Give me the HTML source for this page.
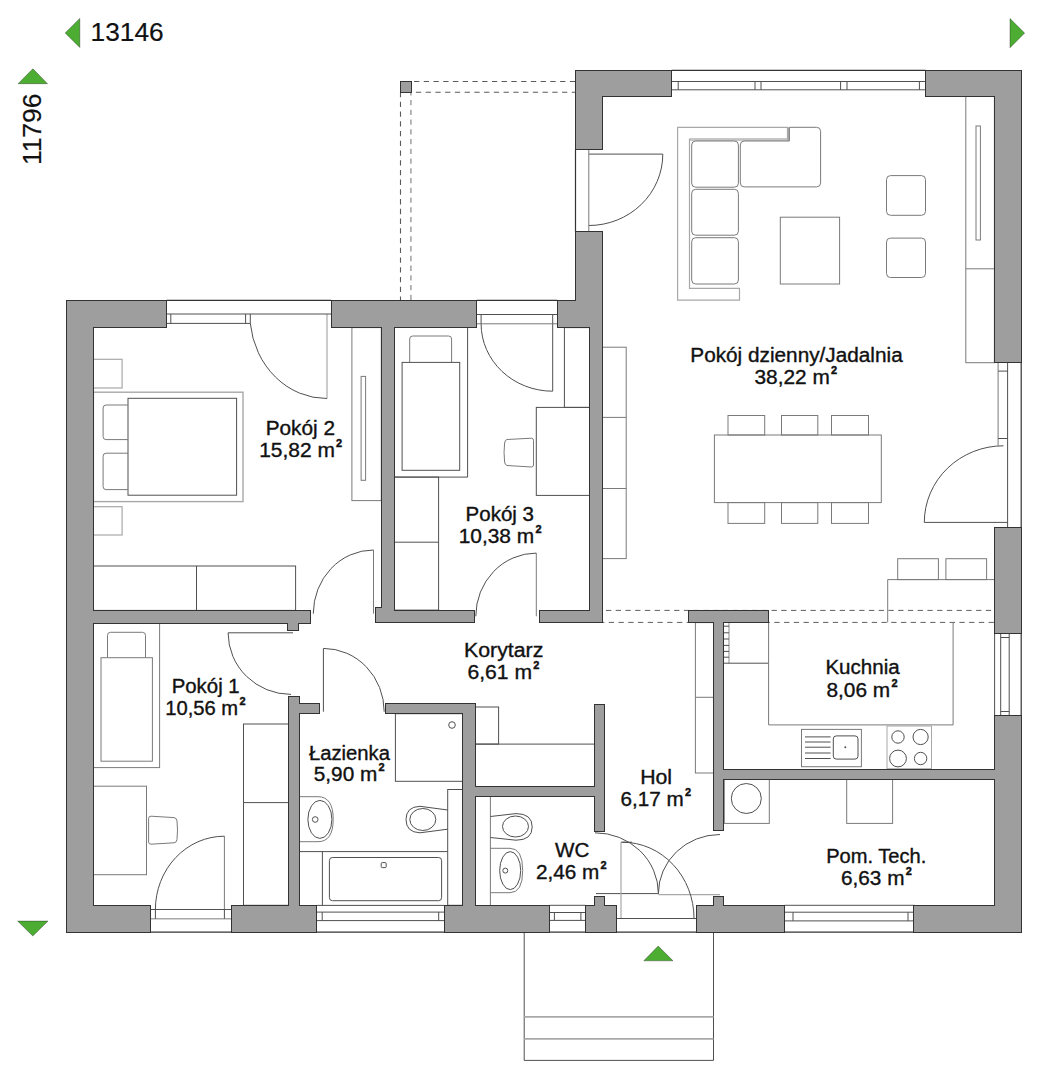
<!DOCTYPE html>
<html><head><meta charset="utf-8"><title>Floor plan</title>
<style>html,body{margin:0;padding:0;background:#fff;}body{width:1052px;height:1080px;overflow:hidden;font-family:"Liberation Sans",sans-serif;}svg{display:block;}</style>
</head><body>
<svg width="1052" height="1080" viewBox="0 0 1052 1080">
<rect width="1052" height="1080" fill="#ffffff"/>
<g><line x1="411.6" y1="81.5" x2="575.4" y2="81.5" stroke="#5a5a5a" stroke-width="1.1" stroke-dasharray="5.3 4.44" stroke-dashoffset="7.34"/><line x1="411.6" y1="92.3" x2="575.4" y2="92.3" stroke="#5a5a5a" stroke-width="1.1" stroke-dasharray="5.3 4.44" stroke-dashoffset="5.44"/><line x1="400.5" y1="92.6" x2="400.5" y2="300" stroke="#5a5a5a" stroke-width="1.1" stroke-dasharray="5.3 4.44" stroke-dashoffset="0.64"/><line x1="410.9" y1="92.6" x2="410.9" y2="300" stroke="#a0a0a0" stroke-width="1.5" stroke-dasharray="5.3 4.44" stroke-dashoffset="2.34"/><line x1="602.5" y1="610.4" x2="994.6" y2="610.4" stroke="#5e5e5e" stroke-width="1.0" stroke-dasharray="5.3 4.44" stroke-dashoffset="6.28"/><line x1="602.5" y1="622.4" x2="994.6" y2="622.4" stroke="#5e5e5e" stroke-width="1.0" stroke-dasharray="5.3 4.44" stroke-dashoffset="3.48"/></g>
<g><rect x="93.4" y="359.3" width="28.70" height="28.70" fill="none" stroke="#a8a8a8" stroke-width="1.2"/><rect x="93.4" y="392.2" width="149.60" height="109.40" fill="none" stroke="#a8a8a8" stroke-width="1.4"/><rect x="128.0" y="398.3" width="108.60" height="96.90" fill="none" stroke="#505050" stroke-width="1"/><path d="M128,405 H106.1 Q103.1,405 103.1,408 V436.6 Q103.1,439.6 106.1,439.6 H128" fill="none" stroke="#7a7a7a" stroke-width="1"/><path d="M128,453.2 H106.1 Q103.1,453.2 103.1,456.2 V486.6 Q103.1,489.6 106.1,489.6 H128" fill="none" stroke="#7a7a7a" stroke-width="1"/><rect x="93.4" y="506.7" width="28.70" height="28.30" fill="none" stroke="#a8a8a8" stroke-width="1.2"/><rect x="93.4" y="566.0" width="202.20" height="44.40" fill="none" stroke="#505050" stroke-width="1"/><line x1="196.5" y1="566.0" x2="196.5" y2="610.4" stroke="#505050" stroke-width="1" /><rect x="351.9" y="327.6" width="29.40" height="173.00" fill="none" stroke="#7a7a7a" stroke-width="1"/><rect x="361.1" y="376.4" width="4.50" height="103.90" fill="none" stroke="#7a7a7a" stroke-width="1"/><path d="M409.7,362.4 V339 Q409.7,336 412.7,336 H448.6 Q451.6,336 451.6,339 V362.4" fill="none" stroke="#7a7a7a" stroke-width="1"/><rect x="402.1" y="362.4" width="57.60" height="107.90" fill="none" stroke="#505050" stroke-width="1"/><line x1="467.6" y1="327.6" x2="467.6" y2="477.1" stroke="#505050" stroke-width="1" /><line x1="394.2" y1="477.1" x2="467.6" y2="477.1" stroke="#505050" stroke-width="1" /><rect x="394.2" y="477.1" width="44.40" height="133.00" fill="none" stroke="#505050" stroke-width="1"/><line x1="394.2" y1="542.2" x2="438.6" y2="542.2" stroke="#505050" stroke-width="1" /><rect x="564.4" y="327.6" width="25.10" height="79.80" fill="none" stroke="#505050" stroke-width="1"/><rect x="536.3" y="407.4" width="53.20" height="88.00" fill="none" stroke="#505050" stroke-width="1"/><path d="M507,439.5 L531.5,438.2 Q533.5,438.2 533.5,440.5 L533.5,465 Q533.5,467 531.5,467 L507,465.5 Q505,465 504.6,462 Q503.5,452.5 504.6,443 Q505,439.7 507,439.5 Z" fill="none" stroke="#7a7a7a" stroke-width="1"/><path d="M787.5,127.3 H677.6 V300.2 H739.5 V288.3 H689.5 V139.2 H787.5 Z" fill="none" stroke="#a8a8a8" stroke-width="1.2"/><line x1="690.0" y1="139.6" x2="788.0" y2="139.6" stroke="#c4c4c4" stroke-width="2.6" /><line x1="788.2" y1="127.3" x2="788.2" y2="140.8" stroke="#a8a8a8" stroke-width="1.6" /><rect x="691.7" y="141.0" width="46.70" height="46.20" fill="none" stroke="#7a7a7a" stroke-width="1" rx="4"/><rect x="691.7" y="189.3" width="46.70" height="45.90" fill="none" stroke="#7a7a7a" stroke-width="1" rx="4"/><rect x="691.7" y="237.7" width="46.70" height="46.30" fill="none" stroke="#7a7a7a" stroke-width="1" rx="4"/><path d="M744.3,141 H789.4 V127.3 H816.6 Q820.6,127.3 820.6,131.3 V182.9 Q820.6,186.9 816.6,186.9 H744.3 Q740.3,186.9 740.3,182.9 V145 Q740.3,141 744.3,141 Z" fill="none" stroke="#7a7a7a" stroke-width="1"/><rect x="780.3" y="217.2" width="59.30" height="66.80" fill="none" stroke="#7a7a7a" stroke-width="1"/><rect x="886.5" y="175.6" width="39.00" height="39.70" fill="none" stroke="#7a7a7a" stroke-width="1" rx="4"/><rect x="886.5" y="238.1" width="39.00" height="39.40" fill="none" stroke="#7a7a7a" stroke-width="1" rx="4"/><rect x="965.8" y="96.2" width="28.60" height="266.50" fill="none" stroke="#7a7a7a" stroke-width="1"/><line x1="965.8" y1="268.8" x2="994.4" y2="268.8" stroke="#7a7a7a" stroke-width="1" /><rect x="976.0" y="126.0" width="4.40" height="114.00" fill="none" stroke="#7a7a7a" stroke-width="1"/><rect x="602.3" y="347.2" width="23.90" height="211.40" fill="none" stroke="#7a7a7a" stroke-width="1"/><line x1="602.3" y1="417.4" x2="626.2" y2="417.4" stroke="#7a7a7a" stroke-width="1" /><line x1="602.3" y1="488.5" x2="626.2" y2="488.5" stroke="#7a7a7a" stroke-width="1" /><rect x="714.4" y="435.0" width="166.90" height="67.60" fill="none" stroke="#7a7a7a" stroke-width="1"/><rect x="728.0" y="415.5" width="36.70" height="19.50" fill="none" stroke="#7a7a7a" stroke-width="1"/><rect x="728.0" y="502.6" width="36.70" height="20.80" fill="none" stroke="#7a7a7a" stroke-width="1"/><rect x="781.5" y="415.5" width="36.30" height="19.50" fill="none" stroke="#7a7a7a" stroke-width="1"/><rect x="781.5" y="502.6" width="36.30" height="20.80" fill="none" stroke="#7a7a7a" stroke-width="1"/><rect x="831.5" y="415.5" width="37.00" height="19.50" fill="none" stroke="#7a7a7a" stroke-width="1"/><rect x="831.5" y="502.6" width="37.00" height="20.80" fill="none" stroke="#7a7a7a" stroke-width="1"/><rect x="897.7" y="558.7" width="40.70" height="20.90" fill="none" stroke="#7a7a7a" stroke-width="1"/><rect x="945.9" y="558.7" width="40.70" height="20.90" fill="none" stroke="#7a7a7a" stroke-width="1"/><line x1="887.7" y1="579.6" x2="994.6" y2="579.6" stroke="#7a7a7a" stroke-width="1" /><line x1="887.7" y1="579.6" x2="887.7" y2="622.4" stroke="#7a7a7a" stroke-width="1" /><line x1="729.0" y1="622.6" x2="729.0" y2="663.2" stroke="#a8a8a8" stroke-width="1.3" /><line x1="723.5" y1="626.2" x2="729.0" y2="626.2" stroke="#505050" stroke-width="1" /><line x1="723.5" y1="632.8" x2="729.0" y2="632.8" stroke="#505050" stroke-width="1" /><line x1="723.5" y1="639.0" x2="729.0" y2="639.0" stroke="#505050" stroke-width="1" /><line x1="723.5" y1="645.4" x2="729.0" y2="645.4" stroke="#505050" stroke-width="1" /><line x1="723.5" y1="651.4" x2="729.0" y2="651.4" stroke="#505050" stroke-width="1" /><line x1="723.5" y1="657.2" x2="729.0" y2="657.2" stroke="#505050" stroke-width="1" /><line x1="723.5" y1="663.2" x2="768.6" y2="663.2" stroke="#505050" stroke-width="1" /><path d="M768.6,622.6 V724.9 H953.1 V622.6" fill="none" stroke="#7a7a7a" stroke-width="1"/><rect x="801.5" y="729.4" width="59.90" height="37.30" fill="none" stroke="#7a7a7a" stroke-width="1"/><line x1="805.0" y1="736.9" x2="830.6" y2="736.9" stroke="#505050" stroke-width="1" /><line x1="805.0" y1="742.0" x2="830.6" y2="742.0" stroke="#505050" stroke-width="1" /><line x1="805.0" y1="747.2" x2="830.6" y2="747.2" stroke="#505050" stroke-width="1" /><line x1="805.0" y1="753.0" x2="830.6" y2="753.0" stroke="#505050" stroke-width="1" /><line x1="805.0" y1="758.5" x2="830.6" y2="758.5" stroke="#505050" stroke-width="1" /><rect x="833.3" y="735.9" width="24.70" height="23.20" fill="none" stroke="#505050" stroke-width="1" rx="3"/><circle cx="845.3" cy="747.2" r="1" fill="#505050"/><rect x="887.0" y="726.0" width="44.50" height="42.70" fill="none" stroke="#a8a8a8" stroke-width="1"/><circle cx="898" cy="737" r="6.2" fill="none" stroke="#505050" stroke-width="1"/><circle cx="920.6" cy="737" r="7.6" fill="none" stroke="#505050" stroke-width="1"/><circle cx="898" cy="758.5" r="8.4" fill="none" stroke="#505050" stroke-width="1"/><circle cx="920.6" cy="758.5" r="6.2" fill="none" stroke="#505050" stroke-width="1"/><rect x="695.4" y="622.6" width="18.20" height="150.40" fill="none" stroke="#7a7a7a" stroke-width="1"/><line x1="695.4" y1="697.3" x2="713.6" y2="697.3" stroke="#7a7a7a" stroke-width="1" /><rect x="724.3" y="779.0" width="45.00" height="44.40" fill="none" stroke="#7a7a7a" stroke-width="1"/><circle cx="746.3" cy="798.5" r="15" fill="none" stroke="#505050" stroke-width="1"/><rect x="846.7" y="779.0" width="45.90" height="44.40" fill="none" stroke="#7a7a7a" stroke-width="1"/><rect x="93.4" y="623.2" width="66.20" height="144.40" fill="none" stroke="#7a7a7a" stroke-width="1"/><path d="M107.5,657.7 V635.3 Q107.5,632.3 110.5,632.3 H142.5 Q145.5,632.3 145.5,635.3 V657.7" fill="none" stroke="#7a7a7a" stroke-width="1"/><rect x="101.0" y="657.7" width="51.40" height="103.50" fill="none" stroke="#7a7a7a" stroke-width="1"/><rect x="243.5" y="724.0" width="45.10" height="181.30" fill="none" stroke="#505050" stroke-width="1"/><line x1="243.5" y1="802.6" x2="288.6" y2="802.6" stroke="#505050" stroke-width="1" /><rect x="93.4" y="786.2" width="53.10" height="88.50" fill="none" stroke="#7a7a7a" stroke-width="1"/><path d="M151,816.2 L174,817.6 Q176.8,818 177,821 Q178,830 177,839.5 Q176.8,842.6 174,842.8 L151,844.2 Q148.6,844.2 148.6,842 V818.4 Q148.6,816.2 151,816.2 Z" fill="none" stroke="#7a7a7a" stroke-width="1"/><rect x="395.4" y="713.7" width="67.40" height="67.60" fill="none" stroke="#505050" stroke-width="1"/><circle cx="452" cy="725" r="3.3" fill="none" stroke="#505050" stroke-width="1"/><rect x="447.7" y="789.5" width="15.10" height="115.80" fill="none" stroke="#505050" stroke-width="1"/><path d="M447.7,810 L420,806.3 Q406,806.8 406,819.5 Q406,832.3 420,832.8 L447.7,829.2" fill="none" stroke="#505050" stroke-width="1"/><ellipse cx="422.8" cy="819.5" rx="13" ry="11" fill="none" stroke="#505050" stroke-width="1"/><path d="M299.6,796.7 H318 Q333.2,796.7 333.2,819.2 Q333.2,841.7 318,841.7 H299.6" fill="none" stroke="#7a7a7a" stroke-width="1"/><ellipse cx="319.9" cy="819.4" rx="12" ry="19" fill="none" stroke="#505050" stroke-width="1"/><circle cx="315.2" cy="819.5" r="2.8" fill="none" stroke="#505050" stroke-width="1"/><line x1="299.6" y1="851.6" x2="447.7" y2="851.6" stroke="#505050" stroke-width="1" /><line x1="322.4" y1="851.6" x2="322.4" y2="905.3" stroke="#505050" stroke-width="1" /><rect x="329.4" y="857.5" width="112.20" height="43.20" fill="none" stroke="#505050" stroke-width="1" rx="3"/><rect x="381.2" y="862.6" width="5.00" height="5.00" fill="none" stroke="#505050" stroke-width="1" rx="1"/><rect x="475.5" y="707.0" width="23.10" height="37.10" fill="none" stroke="#505050" stroke-width="1"/><line x1="475.5" y1="744.1" x2="594.3" y2="744.1" stroke="#505050" stroke-width="1" /><line x1="490.4" y1="796.7" x2="490.4" y2="905.3" stroke="#7a7a7a" stroke-width="1" /><path d="M490.4,816.5 L516,813.6 Q532.2,813.6 532.2,826.9 Q532.2,840.2 516,840.2 L490.4,837.5" fill="none" stroke="#505050" stroke-width="1"/><ellipse cx="515.5" cy="826.5" rx="13" ry="10.5" fill="none" stroke="#505050" stroke-width="1"/><path d="M490.4,848.3 H510 Q522.7,848.3 522.7,870.5 Q522.7,892.7 510,892.7 H490.4" fill="none" stroke="#7a7a7a" stroke-width="1"/><ellipse cx="510.2" cy="870.6" rx="10.5" ry="19" fill="none" stroke="#505050" stroke-width="1"/><circle cx="505.3" cy="870.6" r="2.5" fill="none" stroke="#505050" stroke-width="1"/><line x1="524.2" y1="932.4" x2="524.2" y2="1060.4" stroke="#505050" stroke-width="1" /><line x1="713.5" y1="932.4" x2="713.5" y2="1060.4" stroke="#505050" stroke-width="1" /><line x1="524.2" y1="1060.4" x2="713.5" y2="1060.4" stroke="#505050" stroke-width="1" /><line x1="524.2" y1="1016.9" x2="713.5" y2="1016.9" stroke="#a8a8a8" stroke-width="1.6" /><line x1="524.2" y1="1038.9" x2="713.5" y2="1038.9" stroke="#a8a8a8" stroke-width="1.6" /></g>
<g><line x1="327.0" y1="314" x2="327.0" y2="398.5" stroke="#a8a8a8" stroke-width="1.2" /><path d="M250.3,323.4 A76.7,84.5 0 0 0 327.0,398.5" fill="none" stroke="#505050" stroke-width="1"/><line x1="552.7" y1="323.8" x2="552.7" y2="391.2" stroke="#505050" stroke-width="1" /><path d="M481.1,323.8 A71.6,67.4 0 0 0 552.7,391.2" fill="none" stroke="#505050" stroke-width="1"/><line x1="588.8" y1="154.1" x2="662.8" y2="154.1" stroke="#505050" stroke-width="1" /><path d="M662.8,154.1 A74,71.4 0 0 1 588.8,225.5" fill="none" stroke="#505050" stroke-width="1"/><line x1="924.3" y1="522.4" x2="1007.6" y2="522.4" stroke="#505050" stroke-width="1" /><path d="M924.3,522.4 A79.2,76.6 0 0 1 1003.5,445.8" fill="none" stroke="#505050" stroke-width="1"/><line x1="373.5" y1="550" x2="373.5" y2="613.7" stroke="#7a7a7a" stroke-width="1" /><path d="M373.5,550 A60.2,63.7 0 0 0 313.3,613.7" fill="none" stroke="#505050" stroke-width="1"/><line x1="536.3" y1="553.1" x2="536.3" y2="616.3" stroke="#7a7a7a" stroke-width="1" /><path d="M536.3,553.1 A60.5,63.2 0 0 0 475.8,616.3" fill="none" stroke="#505050" stroke-width="1"/><line x1="228.1" y1="632.8" x2="293.0" y2="632.8" stroke="#505050" stroke-width="1" /><path d="M228.1,632.8 A62.9,61.6 0 0 0 291.0,694.4" fill="none" stroke="#505050" stroke-width="1"/><line x1="323.4" y1="648.4" x2="323.4" y2="711.7" stroke="#505050" stroke-width="1" /><path d="M323.4,648.4 A60.8,63.3 0 0 1 384.2,711.7" fill="none" stroke="#505050" stroke-width="1"/><line x1="224.4" y1="836.2" x2="224.4" y2="909.5" stroke="#7a7a7a" stroke-width="1" /><path d="M224.4,836.2 A69,73.3 0 0 0 155.4,909.5" fill="none" stroke="#505050" stroke-width="1"/><path d="M595.0,832.8 A63.4,60.8 0 0 1 658.4,893.6" fill="none" stroke="#505050" stroke-width="1"/><path d="M720.0,834.5 A61.6,59.1 0 0 0 658.4,893.6" fill="none" stroke="#505050" stroke-width="1"/><line x1="596.0" y1="893.6" x2="658.4" y2="893.6" stroke="#505050" stroke-width="1" /><line x1="658.4" y1="894.6" x2="720.0" y2="894.6" stroke="#a8a8a8" stroke-width="1.2" /><line x1="621.0" y1="842.2" x2="621.0" y2="918.5" stroke="#a8a8a8" stroke-width="1.2" /><line x1="621.0" y1="842.2" x2="632.0" y2="842.2" stroke="#505050" stroke-width="1" /><path d="M622.5,842.2 A71.5,76.2 0 0 1 694.0,918.4" fill="none" stroke="#505050" stroke-width="1"/></g>
<g><line x1="166.5" y1="300.3" x2="331.1" y2="300.3" stroke="#333333" stroke-width="1.2" /><line x1="166.5" y1="314.0" x2="331.1" y2="314.0" stroke="#505050" stroke-width="1" /><line x1="166.5" y1="323.4" x2="250.3" y2="323.4" stroke="#505050" stroke-width="1" /><line x1="170.8" y1="314" x2="170.8" y2="323.4" stroke="#505050" stroke-width="1" /><line x1="245.6" y1="314" x2="245.6" y2="323.4" stroke="#505050" stroke-width="1" /><line x1="250.3" y1="314" x2="250.3" y2="323.4" stroke="#505050" stroke-width="1" /><line x1="476.6" y1="300.3" x2="557.4" y2="300.3" stroke="#333333" stroke-width="1.2" /><line x1="476.6" y1="314.5" x2="557.4" y2="314.5" stroke="#505050" stroke-width="1" /><line x1="476.6" y1="323.8" x2="557.4" y2="323.8" stroke="#7a7a7a" stroke-width="1" /><line x1="481.1" y1="314.5" x2="481.1" y2="323.8" stroke="#505050" stroke-width="1" /><line x1="552.7" y1="314.5" x2="552.7" y2="323.8" stroke="#505050" stroke-width="1" /><line x1="671.7" y1="70.3" x2="925.5" y2="70.3" stroke="#333333" stroke-width="1.2" /><line x1="671.7" y1="81.5" x2="925.5" y2="81.5" stroke="#505050" stroke-width="1" /><line x1="671.7" y1="89.8" x2="925.5" y2="89.8" stroke="#505050" stroke-width="1" /><line x1="678.2" y1="81.5" x2="678.2" y2="89.8" stroke="#505050" stroke-width="1" /><line x1="755.0" y1="81.5" x2="755.0" y2="89.8" stroke="#505050" stroke-width="1" /><line x1="761.0" y1="81.5" x2="761.0" y2="89.8" stroke="#505050" stroke-width="1" /><line x1="840.6" y1="81.5" x2="840.6" y2="89.8" stroke="#505050" stroke-width="1" /><line x1="847.0" y1="81.5" x2="847.0" y2="89.8" stroke="#505050" stroke-width="1" /><line x1="919.4" y1="81.5" x2="919.4" y2="89.8" stroke="#505050" stroke-width="1" /><line x1="575.5" y1="149.4" x2="575.5" y2="231.5" stroke="#333333" stroke-width="1.2" /><line x1="588.8" y1="149.4" x2="588.8" y2="231.5" stroke="#7a7a7a" stroke-width="1" /><line x1="1021.2" y1="362.7" x2="1021.2" y2="527.3" stroke="#333333" stroke-width="1.2" /><line x1="1007.6" y1="362.7" x2="1007.6" y2="527.3" stroke="#505050" stroke-width="1" /><line x1="998.1" y1="362.7" x2="998.1" y2="445.8" stroke="#7a7a7a" stroke-width="1" /><line x1="998.1" y1="371.1" x2="1007.6" y2="371.1" stroke="#505050" stroke-width="1" /><line x1="998.1" y1="438.5" x2="1007.6" y2="438.5" stroke="#505050" stroke-width="1" /><line x1="1021.2" y1="633.4" x2="1021.2" y2="715.3" stroke="#333333" stroke-width="1.2" /><line x1="1000.7" y1="633.4" x2="1000.7" y2="715.3" stroke="#505050" stroke-width="1" /><line x1="1009.2" y1="633.4" x2="1009.2" y2="715.3" stroke="#505050" stroke-width="1" /><line x1="994.6" y1="633.4" x2="994.6" y2="715.3" stroke="#505050" stroke-width="1" /><line x1="1000.7" y1="637.5" x2="1009.2" y2="637.5" stroke="#505050" stroke-width="1" /><line x1="1000.7" y1="711.5" x2="1009.2" y2="711.5" stroke="#505050" stroke-width="1" /><line x1="784.6" y1="932.1" x2="914.5" y2="932.1" stroke="#333333" stroke-width="1.2" /><line x1="784.6" y1="912.2" x2="914.5" y2="912.2" stroke="#505050" stroke-width="1" /><line x1="784.6" y1="920.9" x2="914.5" y2="920.9" stroke="#505050" stroke-width="1" /><line x1="793.0" y1="912.2" x2="793.0" y2="920.9" stroke="#505050" stroke-width="1" /><line x1="908.0" y1="912.2" x2="908.0" y2="920.9" stroke="#505050" stroke-width="1" /><line x1="784.6" y1="905.3" x2="914.5" y2="905.3" stroke="#505050" stroke-width="1" /><line x1="549.5" y1="932.1" x2="585.4" y2="932.1" stroke="#333333" stroke-width="1.2" /><line x1="549.5" y1="912.5" x2="585.4" y2="912.5" stroke="#505050" stroke-width="1" /><line x1="549.5" y1="920.4" x2="585.4" y2="920.4" stroke="#505050" stroke-width="1" /><line x1="554.4" y1="912.5" x2="554.4" y2="920.4" stroke="#505050" stroke-width="1" /><line x1="580.9" y1="912.5" x2="580.9" y2="920.4" stroke="#505050" stroke-width="1" /><line x1="549.5" y1="905.3" x2="585.4" y2="905.3" stroke="#505050" stroke-width="1" /><line x1="316.7" y1="932.1" x2="444.4" y2="932.1" stroke="#333333" stroke-width="1.2" /><line x1="316.7" y1="912.1" x2="444.4" y2="912.1" stroke="#505050" stroke-width="1" /><line x1="316.7" y1="920.6" x2="444.4" y2="920.6" stroke="#505050" stroke-width="1" /><line x1="322.2" y1="912.1" x2="322.2" y2="920.6" stroke="#505050" stroke-width="1" /><line x1="438.7" y1="912.1" x2="438.7" y2="920.6" stroke="#505050" stroke-width="1" /><line x1="316.7" y1="905.4" x2="444.4" y2="905.4" stroke="#505050" stroke-width="1" /><line x1="150.4" y1="932.1" x2="231.4" y2="932.1" stroke="#333333" stroke-width="1.2" /><line x1="150.4" y1="909.5" x2="231.4" y2="909.5" stroke="#505050" stroke-width="1" /><line x1="150.4" y1="918.8" x2="231.4" y2="918.8" stroke="#a8a8a8" stroke-width="1.6" /><line x1="155.4" y1="909.5" x2="155.4" y2="918.8" stroke="#505050" stroke-width="1" /><line x1="224.4" y1="909.5" x2="224.4" y2="918.8" stroke="#505050" stroke-width="1" /><line x1="616.6" y1="932.1" x2="696.4" y2="932.1" stroke="#333333" stroke-width="1.2" /><line x1="616.6" y1="918.5" x2="696.4" y2="918.5" stroke="#505050" stroke-width="1" /></g>
<g fill="#9e9e9e" shape-rendering="crispEdges"><rect x="66" y="300" width="28" height="633"/><rect x="66" y="300" width="101" height="28"/><rect x="331" y="300" width="146" height="28"/><rect x="381" y="327" width="14" height="296"/><rect x="557" y="300" width="46" height="28"/><rect x="575" y="70" width="28" height="80"/><rect x="575" y="231" width="28" height="97"/><rect x="589" y="327" width="14" height="296"/><rect x="575" y="70" width="97" height="27"/><rect x="925" y="70" width="97" height="27"/><rect x="994" y="70" width="28" height="293"/><rect x="994" y="527" width="28" height="107"/><rect x="994" y="715" width="28" height="218"/><rect x="66" y="905" width="85" height="28"/><rect x="231" y="905" width="86" height="28"/><rect x="444" y="905" width="106" height="28"/><rect x="585" y="905" width="32" height="28"/><rect x="696" y="905" width="89" height="28"/><rect x="913" y="905" width="109" height="28"/><rect x="93" y="610" width="218" height="14"/><rect x="287" y="623" width="12" height="8"/><rect x="375" y="607" width="7" height="16"/><rect x="381" y="610" width="94" height="13"/><rect x="539" y="610" width="64" height="13"/><rect x="288" y="696" width="12" height="237"/><rect x="299" y="703" width="21" height="11"/><rect x="385" y="703" width="91" height="11"/><rect x="462" y="703" width="14" height="230"/><rect x="594" y="704" width="11" height="128"/><rect x="475" y="786" width="120" height="11"/><rect x="594" y="896" width="11" height="10"/><rect x="688" y="610" width="81" height="13"/><rect x="713" y="622" width="11" height="209"/><rect x="713" y="769" width="282" height="11"/><rect x="713" y="896" width="11" height="10"/><rect x="400" y="81" width="12" height="12"/></g>
<g fill="#333333" shape-rendering="crispEdges"><rect x="575" y="70" width="97" height="1"/><rect x="925" y="70" width="97" height="1"/><rect x="575" y="71" width="1" height="78"/><rect x="575" y="232" width="1" height="68"/><rect x="671" y="71" width="1" height="25"/><rect x="925" y="71" width="1" height="25"/><rect x="1021" y="71" width="1" height="291"/><rect x="1021" y="528" width="1" height="105"/><rect x="1021" y="716" width="1" height="216"/><rect x="400" y="81" width="12" height="1"/><rect x="400" y="92" width="12" height="1"/><rect x="400" y="82" width="1" height="10"/><rect x="411" y="82" width="1" height="10"/><rect x="602" y="96" width="70" height="1"/><rect x="925" y="96" width="70" height="1"/><rect x="602" y="97" width="1" height="52"/><rect x="602" y="232" width="1" height="390"/><rect x="994" y="97" width="1" height="265"/><rect x="994" y="528" width="1" height="105"/><rect x="994" y="716" width="1" height="53"/><rect x="994" y="780" width="1" height="125"/><rect x="575" y="149" width="28" height="1"/><rect x="575" y="231" width="28" height="1"/><rect x="66" y="300" width="101" height="1"/><rect x="331" y="300" width="146" height="1"/><rect x="557" y="300" width="19" height="1"/><rect x="66" y="301" width="1" height="631"/><rect x="166" y="301" width="1" height="26"/><rect x="331" y="301" width="1" height="26"/><rect x="476" y="301" width="1" height="26"/><rect x="557" y="301" width="1" height="26"/><rect x="93" y="327" width="74" height="1"/><rect x="331" y="327" width="51" height="1"/><rect x="394" y="327" width="83" height="1"/><rect x="557" y="327" width="33" height="1"/><rect x="93" y="328" width="1" height="282"/><rect x="93" y="624" width="1" height="281"/><rect x="381" y="328" width="1" height="279"/><rect x="394" y="328" width="1" height="282"/><rect x="589" y="328" width="1" height="282"/><rect x="994" y="362" width="28" height="1"/><rect x="994" y="527" width="28" height="1"/><rect x="994" y="633" width="28" height="1"/><rect x="994" y="715" width="28" height="1"/><rect x="375" y="607" width="7" height="1"/><rect x="375" y="608" width="1" height="14"/><rect x="93" y="610" width="218" height="1"/><rect x="394" y="610" width="81" height="1"/><rect x="539" y="610" width="51" height="1"/><rect x="688" y="610" width="81" height="1"/><rect x="310" y="611" width="1" height="12"/><rect x="474" y="611" width="1" height="11"/><rect x="539" y="611" width="1" height="11"/><rect x="688" y="611" width="1" height="11"/><rect x="768" y="611" width="1" height="11"/><rect x="375" y="622" width="100" height="1"/><rect x="539" y="622" width="64" height="1"/><rect x="688" y="622" width="26" height="1"/><rect x="723" y="622" width="46" height="1"/><rect x="93" y="623" width="195" height="1"/><rect x="298" y="623" width="13" height="1"/><rect x="713" y="623" width="1" height="207"/><rect x="713" y="897" width="1" height="8"/><rect x="723" y="623" width="1" height="146"/><rect x="723" y="780" width="1" height="50"/><rect x="723" y="897" width="1" height="8"/><rect x="287" y="624" width="1" height="6"/><rect x="298" y="624" width="1" height="6"/><rect x="287" y="630" width="12" height="1"/><rect x="288" y="696" width="12" height="1"/><rect x="288" y="697" width="1" height="208"/><rect x="299" y="697" width="1" height="6"/><rect x="299" y="714" width="1" height="191"/><rect x="299" y="703" width="21" height="1"/><rect x="299" y="713" width="21" height="1"/><rect x="385" y="703" width="91" height="1"/><rect x="319" y="704" width="1" height="9"/><rect x="385" y="704" width="1" height="9"/><rect x="475" y="704" width="1" height="82"/><rect x="475" y="797" width="1" height="108"/><rect x="594" y="704" width="11" height="1"/><rect x="594" y="831" width="11" height="1"/><rect x="594" y="896" width="11" height="1"/><rect x="594" y="705" width="1" height="81"/><rect x="594" y="797" width="1" height="34"/><rect x="594" y="897" width="1" height="8"/><rect x="604" y="705" width="1" height="126"/><rect x="604" y="897" width="1" height="8"/><rect x="385" y="713" width="78" height="1"/><rect x="462" y="714" width="1" height="191"/><rect x="723" y="769" width="272" height="1"/><rect x="723" y="779" width="272" height="1"/><rect x="475" y="786" width="120" height="1"/><rect x="475" y="796" width="120" height="1"/><rect x="713" y="830" width="11" height="1"/><rect x="713" y="896" width="11" height="1"/><rect x="93" y="905" width="58" height="1"/><rect x="231" y="905" width="58" height="1"/><rect x="299" y="905" width="18" height="1"/><rect x="444" y="905" width="19" height="1"/><rect x="475" y="905" width="75" height="1"/><rect x="585" y="905" width="10" height="1"/><rect x="604" y="905" width="13" height="1"/><rect x="696" y="905" width="18" height="1"/><rect x="723" y="905" width="62" height="1"/><rect x="913" y="905" width="82" height="1"/><rect x="150" y="906" width="1" height="26"/><rect x="231" y="906" width="1" height="26"/><rect x="316" y="906" width="1" height="26"/><rect x="444" y="906" width="1" height="26"/><rect x="549" y="906" width="1" height="26"/><rect x="585" y="906" width="1" height="26"/><rect x="616" y="906" width="1" height="26"/><rect x="696" y="906" width="1" height="26"/><rect x="784" y="906" width="1" height="26"/><rect x="913" y="906" width="1" height="26"/><rect x="66" y="932" width="85" height="1"/><rect x="231" y="932" width="86" height="1"/><rect x="444" y="932" width="106" height="1"/><rect x="585" y="932" width="32" height="1"/><rect x="696" y="932" width="89" height="1"/><rect x="913" y="932" width="109" height="1"/></g>
<g font-family="Liberation Sans, sans-serif" font-size="19.5" fill="#111111" stroke="#111111" stroke-width="0.35"><text x="265.7" y="435.1" textLength="69.3" lengthAdjust="spacingAndGlyphs">Pokój 2</text><text x="259.2" y="457.1" textLength="75.7" lengthAdjust="spacingAndGlyphs">15,82 m</text><text x="336.1" y="447.2" font-size="11" font-weight="bold" stroke-width="0.45">2</text><text x="465.6" y="521.3" textLength="68.4" lengthAdjust="spacingAndGlyphs">Pokój 3</text><text x="458.7" y="542.9" textLength="75.5" lengthAdjust="spacingAndGlyphs">10,38 m</text><text x="535.4" y="533.0" font-size="11" font-weight="bold" stroke-width="0.45">2</text><text x="690.3" y="362.1" textLength="212.4" lengthAdjust="spacingAndGlyphs">Pokój dzienny/Jadalnia</text><text x="754.5" y="384.1" textLength="75.3" lengthAdjust="spacingAndGlyphs">38,22 m</text><text x="831.0" y="374.2" font-size="11" font-weight="bold" stroke-width="0.45">2</text><text x="825.4" y="674.4" textLength="74.3" lengthAdjust="spacingAndGlyphs">Kuchnia</text><text x="826.5" y="696.6" textLength="63.7" lengthAdjust="spacingAndGlyphs">8,06 m</text><text x="891.4" y="686.7" font-size="11" font-weight="bold" stroke-width="0.45">2</text><text x="464.0" y="657.3" textLength="79.3" lengthAdjust="spacingAndGlyphs">Korytarz</text><text x="467.4" y="678.8" textLength="64.6" lengthAdjust="spacingAndGlyphs">6,61 m</text><text x="533.2" y="668.9" font-size="11" font-weight="bold" stroke-width="0.45">2</text><text x="171.7" y="693.4" textLength="68.0" lengthAdjust="spacingAndGlyphs">Pokój 1</text><text x="165.2" y="715.0" textLength="73.0" lengthAdjust="spacingAndGlyphs">10,56 m</text><text x="239.4" y="705.1" font-size="11" font-weight="bold" stroke-width="0.45">2</text><text x="308.9" y="759.5" textLength="81.0" lengthAdjust="spacingAndGlyphs">Łazienka</text><text x="313.8" y="780.8" textLength="63.5" lengthAdjust="spacingAndGlyphs">5,90 m</text><text x="378.5" y="770.9" font-size="11" font-weight="bold" stroke-width="0.45">2</text><text x="640.2" y="783.7" textLength="31.9" lengthAdjust="spacingAndGlyphs">Hol</text><text x="620.5" y="805.8" textLength="63.2" lengthAdjust="spacingAndGlyphs">6,17 m</text><text x="684.9" y="795.9" font-size="11" font-weight="bold" stroke-width="0.45">2</text><text x="555.0" y="857.3" textLength="34.3" lengthAdjust="spacingAndGlyphs">WC</text><text x="536.0" y="879.3" textLength="63.4" lengthAdjust="spacingAndGlyphs">2,46 m</text><text x="600.6" y="869.4" font-size="11" font-weight="bold" stroke-width="0.45">2</text><text x="826.2" y="862.7" textLength="100.1" lengthAdjust="spacingAndGlyphs">Pom. Tech.</text><text x="841.0" y="884.5" textLength="63.5" lengthAdjust="spacingAndGlyphs">6,63 m</text><text x="905.7" y="874.6" font-size="11" font-weight="bold" stroke-width="0.45">2</text><text x="90.6" y="41.0" font-size="25.5" stroke-width="0.2" textLength="73" lengthAdjust="spacingAndGlyphs">13146</text><text transform="translate(40.7,165.1) rotate(-90)" x="0" y="0" font-size="25.5" stroke-width="0.2" textLength="71.6" lengthAdjust="spacingAndGlyphs">11796</text><polygon points="65.2,32.9 79.8,18.4 79.8,47.5" fill="#4dad33"/><polygon points="1024.6,33.1 1010,18.6 1010,47.7" fill="#4dad33"/><polygon points="32.9,68.8 47.5,83.7 18.1,83.7" fill="#4dad33"/><polygon points="17.6,921.1 48,921.1 32.8,935.9" fill="#4dad33"/><polygon points="658.2,946 673,960.8 643.8,960.8" fill="#4dad33"/></g>
</svg>
</body></html>
